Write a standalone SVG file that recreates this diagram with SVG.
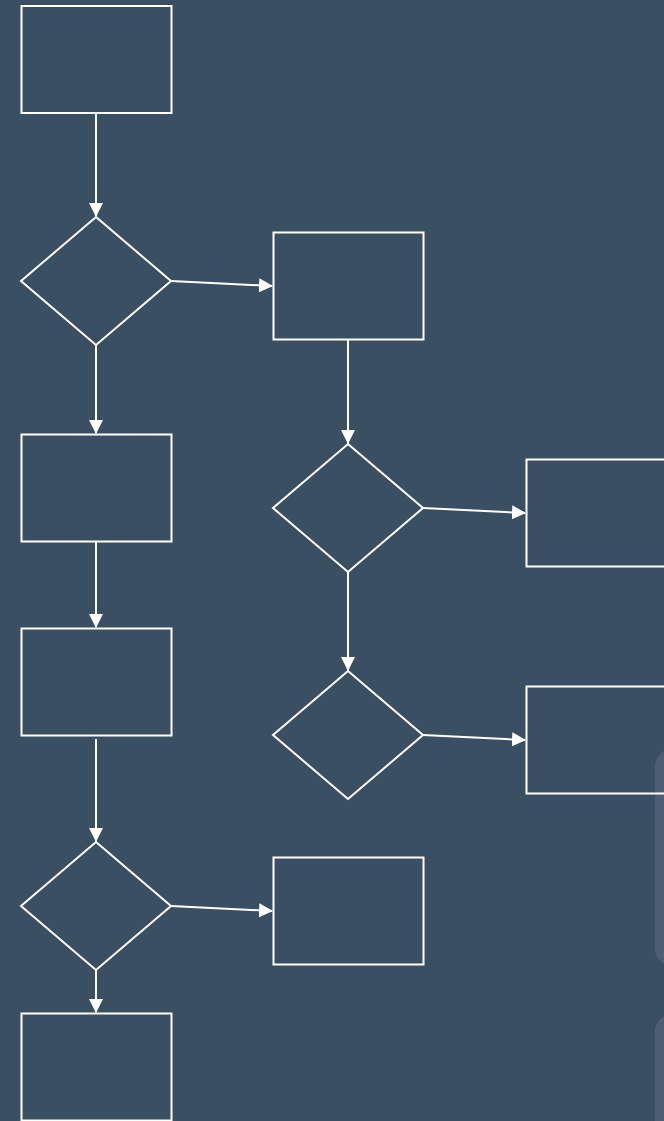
<svg xmlns="http://www.w3.org/2000/svg" width="664" height="1121" viewBox="0 0 664 1121">
<style>
.n{fill:none;stroke:#ffffff;stroke-width:2}
.e{fill:none;stroke:#ffffff;stroke-width:2}
.p{fill:#4c5f72}
</style>
<defs>
<marker id="ah" markerWidth="14" markerHeight="14" refX="13" refY="7" orient="auto" markerUnits="userSpaceOnUse">
<path d="M0,0 L14,7 L0,14 Z" fill="#ffffff"/>
</marker>
</defs>
<rect width="664" height="1121" fill="#3b4f63"/>
<rect class="p" x="655" y="750" width="40" height="215" rx="16"/>
<rect class="p" x="655" y="1015" width="40" height="130" rx="16"/>
<g id="connectors">
<line class="e" x1="96" y1="113" x2="96" y2="216" marker-end="url(#ah)"/>
<line class="e" x1="171" y1="281" x2="272" y2="286" marker-end="url(#ah)"/>
<line class="e" x1="96" y1="345" x2="96" y2="433" marker-end="url(#ah)"/>
<line class="e" x1="348" y1="339" x2="348" y2="443" marker-end="url(#ah)"/>
<line class="e" x1="423" y1="508" x2="525" y2="513" marker-end="url(#ah)"/>
<line class="e" x1="348" y1="572" x2="348" y2="670" marker-end="url(#ah)"/>
<line class="e" x1="423" y1="735" x2="525" y2="740" marker-end="url(#ah)"/>
<line class="e" x1="96" y1="541" x2="96" y2="627" marker-end="url(#ah)"/>
<line class="e" x1="96" y1="739" x2="96" y2="841" marker-end="url(#ah)"/>
<line class="e" x1="171" y1="906" x2="272" y2="911" marker-end="url(#ah)"/>
<line class="e" x1="96" y1="970" x2="96" y2="1012" marker-end="url(#ah)"/>
</g>
<g id="n1"><rect class="n" x="21.5" y="6" width="150" height="107"/></g>
<g id="d1"><polygon class="n" points="96,217 171,281 96,345 21,281"/></g>
<g id="n2"><rect class="n" x="273.5" y="232.5" width="150" height="107"/></g>
<g id="d2"><polygon class="n" points="348,444 423,508 348,572 273,508"/></g>
<g id="n3"><rect class="n" x="526.5" y="459.5" width="150" height="107"/></g>
<g id="d3"><polygon class="n" points="348,671 423,735 348,799 273,735"/></g>
<g id="n4"><rect class="n" x="526.5" y="686.5" width="150" height="107"/></g>
<g id="n5"><rect class="n" x="21.5" y="434.5" width="150" height="107"/></g>
<g id="n6"><rect class="n" x="21.5" y="628.5" width="150" height="107"/></g>
<g id="d4"><polygon class="n" points="96,842 171,906 96,970 21,906"/></g>
<g id="n7"><rect class="n" x="273.5" y="857.5" width="150" height="107"/></g>
<g id="n8"><rect class="n" x="21.5" y="1013.5" width="150" height="107"/></g>
</svg>
